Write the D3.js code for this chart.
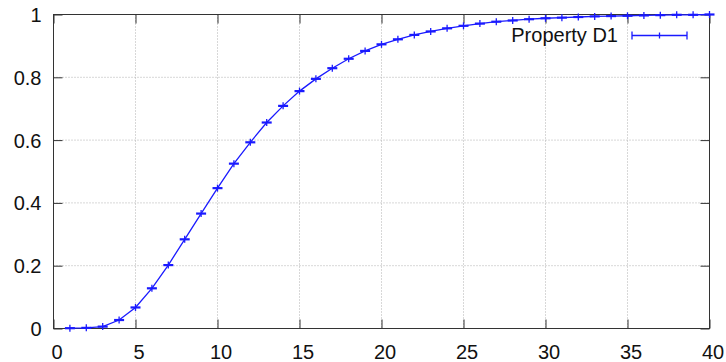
<!DOCTYPE html>
<html><head><meta charset="utf-8">
<script src="https://cdn.jsdelivr.net/npm/d3@7"></script>
<style>body{margin:0;background:#fff;} svg{display:block;font-family:"Liberation Sans",Arial,sans-serif;}</style>
</head><body>
<svg id="c" width="726" height="362"></svg>
<script>
const xValues = [1,2,3,4,5,6,7,8,9,10,11,12,13,14,15,16,17,18,19,20,21,22,23,24,25,26,27,28,29,30,31,32,33,34,35,36,37,38,39,40];
const yValues = [0.001,0.002,0.006,0.027,0.067,0.128,0.202,0.284,0.366,0.447,0.525,0.593,0.656,0.709,0.756,0.795,0.829,0.859,0.884,0.905,0.921,0.935,0.946,0.956,0.964,0.971,0.977,0.981,0.985,0.988,0.990,0.992,0.994,0.995,0.996,0.997,0.998,0.999,0.999,1.0];
const xTicks = [0,5,10,15,20,25,30,35,40];
const yTicks = [0,0.2,0.4,0.6,0.8,1];
const seriesName = "Property D1";

const svg = d3.select("#c");
const L=53.5, R=709.5, T=14.5, B=328.5;
const x = d3.scaleLinear().domain([0,40]).range([L,R]);
const y = d3.scaleLinear().domain([0,1]).range([B,T]);
const blue = "#1a1aff";
const FS = "20px";

// grid
const g = svg.append("g");
g.selectAll("line.gx").data(xTicks.slice(1,-1)).enter().append("line")
 .attr("x1",d=>x(d)).attr("x2",d=>x(d)).attr("y1",T).attr("y2",B)
 .attr("stroke","#b0b0b0").attr("stroke-width",1).attr("stroke-dasharray","1,2");
g.selectAll("line.gy").data(yTicks.slice(1,-1)).enter().append("line")
 .attr("x1",L).attr("x2",R).attr("y1",d=>y(d)).attr("y2",d=>y(d))
 .attr("stroke","#b0b0b0").attr("stroke-width",1).attr("stroke-dasharray","1,2");

// axes
const fmt = d=>d3.format("~g")(d);
const ax = svg.append("g").attr("transform",`translate(0,${B})`)
  .call(d3.axisBottom(x).tickValues(xTicks).tickFormat(fmt).tickSizeInner(-9).tickSizeOuter(0));
const axTop = svg.append("g").attr("transform",`translate(0,${T})`)
  .call(d3.axisTop(x).tickValues(xTicks).tickFormat("").tickSizeInner(-9).tickSizeOuter(0));
const ay = svg.append("g").attr("transform",`translate(${L},0)`)
  .call(d3.axisLeft(y).tickValues(yTicks).tickFormat(fmt).tickSizeInner(-9).tickSizeOuter(0));
const ayR = svg.append("g").attr("transform",`translate(${R},0)`)
  .call(d3.axisRight(y).tickValues(yTicks).tickFormat("").tickSizeInner(-9).tickSizeOuter(0));
[ax,axTop,ay,ayR].forEach(a=>{
  a.select(".domain").remove();
  a.selectAll("line").attr("stroke","#333").attr("stroke-width",1);
  a.selectAll("text").attr("font-size",FS).attr("fill","#111")
   .attr("font-family",'"Liberation Sans",Arial,sans-serif');
});
ax.selectAll("text").attr("dy",null).attr("y",30).attr("x",3);
ay.selectAll("text").attr("x",-12).attr("dy","0.35em");
svg.append("rect").attr("x",L).attr("y",T).attr("width",R-L).attr("height",B-T)
 .attr("fill","none").attr("stroke","#333").attr("stroke-width",1);

// series line
const data = xValues.map((v,i)=>({x:v,y:yValues[i]}));
svg.append("path").datum(data)
 .attr("d",d3.line().x(d=>x(d.x)).y(d=>y(d.y)))
 .attr("fill","none").attr("stroke",blue).attr("stroke-width",1.3);
// markers: horizontal bar + small vertical tick
const m = svg.append("g");
m.selectAll("line.h").data(data).enter().append("line")
 .attr("x1",d=>x(d.x)-5).attr("x2",d=>x(d.x)+5).attr("y1",d=>y(d.y)).attr("y2",d=>y(d.y))
 .attr("stroke",blue).attr("stroke-width",2.2);
m.selectAll("line.v").data(data).enter().append("line")
 .attr("x1",d=>x(d.x)).attr("x2",d=>x(d.x)).attr("y1",d=>y(d.y)-3.5).attr("y2",d=>y(d.y)+3.5)
 .attr("stroke",blue).attr("stroke-width",1.3);

// legend
const lg = svg.append("g");
lg.append("text").attr("x",618).attr("y",42).attr("text-anchor","end")
 .attr("font-size",FS).attr("fill","#111").text(seriesName);
lg.append("line").attr("x1",632).attr("x2",687).attr("y1",35.5).attr("y2",35.5).attr("stroke",blue).attr("stroke-width",1.3);
[632,687].forEach(px=>lg.append("line").attr("x1",px).attr("x2",px).attr("y1",31.5).attr("y2",39.5).attr("stroke",blue).attr("stroke-width",1.3));
lg.append("line").attr("x1",659.5).attr("x2",659.5).attr("y1",32.5).attr("y2",38.5).attr("stroke",blue).attr("stroke-width",1.3);
</script>
</body></html>
